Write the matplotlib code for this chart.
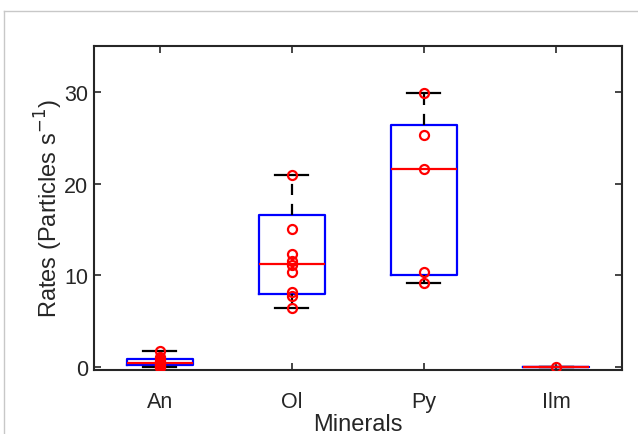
#!/usr/bin/env python3
"""Box plot of particle rates per mineral, with the individual points overlaid."""

import matplotlib
matplotlib.use('Agg')
import matplotlib.pyplot as plt
from matplotlib.lines import Line2D

# Data (particles per second)
minerals = ["An", "Ol", "Py", "Ilm"]
an_points = [1.75, 1.1, 0.9, 0.7, 0.55, 0.45, 0.35, 0.25, 0.15, 0.05, 0.0]
ol_points = [20.9, 15.1, 12.35, 11.6, 11.1, 10.35, 8.15, 7.8, 6.45]
py_points = [29.85, 25.3, 21.6, 10.35, 9.2]
ilm_points = [0.0]

# box statistics as drawn
q1 = [0.2, 8.0, 10.1, 0.0]
medians = [0.5, 11.25, 21.6, 0.0]
q3 = [0.9, 16.55, 26.4, 0.0]
whisk_lo = [0.0, 6.45, 9.2, 0.0]
whisk_hi = [1.75, 20.9, 29.85, 0.0]

all_points = [an_points, ol_points, py_points, ilm_points]

plt.rcParams['font.family'] = ['Liberation Sans', 'DejaVu Sans']
text_col = "#262626"

fig = plt.figure(figsize=(6.38, 4.35), dpi=100)
ax = fig.add_axes([0.147, 0.147, 0.828, 0.745])

stats = []
for i, name in enumerate(minerals):
    stats.append({
        "label": name,
        "med": medians[i],
        "q1": q1[i],
        "q3": q3[i],
        "whislo": whisk_lo[i],
        "whishi": whisk_hi[i],
        "fliers": [],
    })

ax.bxp(
    stats,
    positions=range(1, len(minerals) + 1),
    widths=0.5,
    showfliers=False,
    boxprops=dict(color="blue", linewidth=1.6),
    medianprops=dict(color="red", linewidth=1.6),
    whiskerprops=dict(color="black", linewidth=1.6, linestyle=(0, (5, 4))),
    capprops=dict(color="black", linewidth=1.6),
    capwidths=0.25,
)

# individual measurements
for i, pts in enumerate(all_points):
    ax.plot([i + 1] * len(pts), pts, linestyle="none", marker="o",
            markersize=6.5, markerfacecolor="none", markeredgecolor="red",
            markeredgewidth=1.6, zorder=5)

ax.set_xlim(0.5, 4.5)
ax.set_ylim(-0.3, 35)
ax.set_yticks([0, 10, 20, 30])
ax.set_xticks(range(1, len(minerals) + 1))
ax.set_xticklabels(minerals)

ax.tick_params(direction="in", length=5, width=1.2, top=True, right=True,
               labelsize=15.5, colors=text_col)
ax.tick_params(axis="x", pad=15)
ax.tick_params(axis="y", pad=4)
for sp in ax.spines.values():
    sp.set_linewidth(1.5)
    sp.set_color(text_col)

ax.set_xlabel("Minerals", fontsize=17, color=text_col, labelpad=1)
ax.set_ylabel("Rates (Particles s$^{-1}$)", fontsize=17, color=text_col, labelpad=-1)

# thin grey frame of the figure window (top and left edges)
fig.add_artist(Line2D([4 / 638, 1], [1 - 12 / 435, 1 - 12 / 435],
                      transform=fig.transFigure, color="#c8c8c8", linewidth=1))
fig.add_artist(Line2D([4 / 638, 4 / 638], [0, 1 - 12 / 435],
                      transform=fig.transFigure, color="#c8c8c8", linewidth=1))

plt.savefig("out.png", dpi=100)
print("Saved: out.png")
